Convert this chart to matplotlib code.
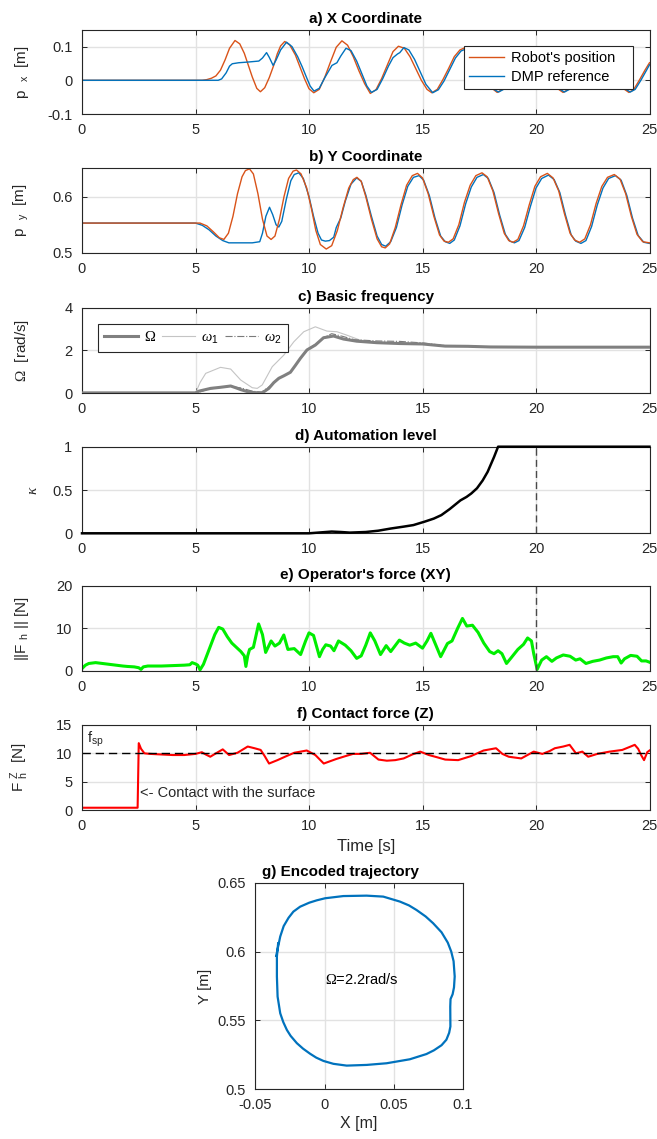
import matplotlib
matplotlib.use('Agg')
import matplotlib.pyplot as plt
import numpy as np

plt.rcParams['font.family'] = ['Liberation Sans', 'DejaVu Sans']
plt.rcParams['mathtext.fontset'] = 'custom'
plt.rcParams['mathtext.rm'] = 'Liberation Sans'
plt.rcParams['mathtext.sf'] = 'Liberation Serif'
plt.rcParams['mathtext.it'] = 'Liberation Serif:italic'
plt.rcParams['mathtext.default'] = 'regular'

# ---------------- data (time [s], value) ----------------
x_robot = np.array([(0, 0), (5.3, 0), (5.5, 0.002), (5.7, 0.006), (5.9, 0.013), (6.1, 0.03), (6.3, 0.06),
    (6.5, 0.095), (6.74, 0.118), (6.95, 0.108), (7.15, 0.08), (7.35, 0.04), (7.5, 0.01), (7.7, -0.024),
    (7.86, -0.034), (8.05, -0.022), (8.25, 0.008), (8.45, 0.045), (8.6, 0.078), (8.75, 0.102), (8.93, 0.115),
    (9.15, 0.105), (9.4, 0.075), (9.6, 0.04), (9.8, 0.005), (10.0, -0.025), (10.21, -0.037), (10.45, -0.027),
    (10.7, 0.01), (10.95, 0.055), (11.2, 0.098), (11.45, 0.117), (11.7, 0.104), (11.95, 0.07), (12.2, 0.028),
    (12.45, -0.01), (12.70, -0.039), (12.95, -0.028), (13.2, 0.005), (13.45, 0.045), (13.7, 0.085),
    (13.94, 0.101), (14.2, 0.095), (14.45, 0.07), (14.7, 0.035), (14.95, 0.0), (15.2, -0.027), (15.41, -0.037),
    (15.65, -0.027), (15.9, 0.002), (16.15, 0.035), (16.4, 0.07), (16.65, 0.09), (16.85, 0.096), (17.1, 0.088),
    (17.35, 0.065), (17.6, 0.032), (17.85, 0.0), (18.1, -0.026), (18.29, -0.036), (18.5, -0.028), (18.75, 0.0),
    (19.0, 0.035), (19.25, 0.068), (19.5, 0.09), (19.75, 0.097), (20.0, 0.09), (20.25, 0.067), (20.5, 0.033),
    (20.75, 0.0), (21.0, -0.027), (21.19, -0.036), (21.4, -0.028), (21.65, 0.0), (21.9, 0.035), (22.15, 0.068),
    (22.4, 0.09), (22.65, 0.097), (22.9, 0.09), (23.15, 0.067), (23.4, 0.033), (23.65, 0.0), (23.9, -0.027),
    (24.09, -0.036), (24.3, -0.028), (24.55, 0.0), (24.8, 0.03), (25.0, 0.052)])

x_dmp = np.array([(0, 0), (6.0, 0), (6.15, 0.004), (6.35, 0.022), (6.5, 0.042), (6.62, 0.049), (6.9, 0.052),
    (7.3, 0.054), (7.79, 0.057), (7.95, 0.066), (8.13, 0.082), (8.25, 0.068), (8.42, 0.044), (8.55, 0.06),
    (8.75, 0.09), (9.01, 0.113), (9.25, 0.1), (9.5, 0.07), (9.7, 0.04), (9.9, 0.007), (10.05, -0.017),
    (10.22, -0.032), (10.45, -0.024), (10.7, 0.008), (11.01, 0.044), (11.23, 0.052), (11.4, 0.072),
    (11.63, 0.095), (11.85, 0.088), (12.1, 0.057), (12.35, 0.016), (12.55, -0.017), (12.75, -0.036),
    (13.0, -0.027), (13.25, 0.005), (13.5, 0.042), (13.7, 0.067), (13.9, 0.078), (14.0, 0.082), (14.18, 0.097),
    (14.4, 0.09), (14.65, 0.062), (14.9, 0.025), (15.15, -0.012), (15.45, -0.037), (15.7, -0.028),
    (15.95, -0.002), (16.2, 0.032), (16.45, 0.066), (16.7, 0.087), (16.92, 0.093), (17.15, 0.086),
    (17.4, 0.062), (17.65, 0.03), (17.9, -0.003), (18.15, -0.027), (18.35, -0.035), (18.57, -0.027),
    (18.82, 0.0), (19.07, 0.034), (19.32, 0.066), (19.57, 0.088), (19.82, 0.095), (20.07, 0.088),
    (20.32, 0.065), (20.57, 0.031), (20.82, -0.002), (21.07, -0.027), (21.25, -0.035), (21.47, -0.027),
    (21.72, 0.0), (21.97, 0.034), (22.22, 0.066), (22.47, 0.088), (22.72, 0.095), (22.97, 0.088),
    (23.22, 0.065), (23.47, 0.031), (23.72, -0.002), (23.97, -0.027), (24.15, -0.035), (24.37, -0.027),
    (24.62, 0.0), (24.87, 0.03), (25.0, 0.046)])

y_robot = np.array([(0, 0.553), (5.2, 0.553), (5.5, 0.548), (5.8, 0.537), (6.05, 0.527), (6.25, 0.524),
    (6.45, 0.535), (6.65, 0.565), (6.85, 0.605), (7.05, 0.635), (7.2, 0.646), (7.38, 0.649), (7.55, 0.64),
    (7.75, 0.605), (7.95, 0.56), (8.15, 0.53), (8.33, 0.524), (8.5, 0.53), (8.7, 0.56), (8.9, 0.6),
    (9.1, 0.632), (9.3, 0.645), (9.45, 0.647), (9.65, 0.64), (9.9, 0.615), (10.1, 0.58), (10.3, 0.54),
    (10.5, 0.515), (10.76, 0.507), (11.0, 0.513), (11.25, 0.54), (11.5, 0.58), (11.75, 0.615), (11.95, 0.63),
    (12.11, 0.634), (12.3, 0.627), (12.5, 0.6), (12.75, 0.56), (13.0, 0.525), (13.2, 0.511), (13.36, 0.509),
    (13.55, 0.516), (13.8, 0.545), (14.05, 0.585), (14.3, 0.62), (14.55, 0.637), (14.78, 0.641), (15.0, 0.633),
    (15.25, 0.605), (15.5, 0.565), (15.75, 0.532), (15.95, 0.521), (16.14, 0.519), (16.35, 0.525), (16.6, 0.55),
    (16.85, 0.59), (17.1, 0.62), (17.35, 0.637), (17.62, 0.642), (17.85, 0.635), (18.1, 0.61), (18.35, 0.57),
    (18.6, 0.535), (18.8, 0.522), (18.99, 0.519), (19.2, 0.524), (19.45, 0.548), (19.7, 0.585), (19.95, 0.618),
    (20.2, 0.635), (20.5, 0.641), (20.75, 0.633), (21.0, 0.61), (21.25, 0.57), (21.5, 0.535), (21.7, 0.523),
    (21.92, 0.519), (22.15, 0.525), (22.4, 0.55), (22.65, 0.588), (22.9, 0.618), (23.15, 0.634), (23.45, 0.639),
    (23.7, 0.631), (23.95, 0.605), (24.2, 0.565), (24.45, 0.533), (24.7, 0.52), (25.0, 0.518)])

y_dmp = np.array([(0, 0.553), (5.0, 0.553), (5.3, 0.549), (5.6, 0.541), (5.9, 0.53), (6.2, 0.522),
    (6.47, 0.518), (7.0, 0.518), (7.5, 0.518), (7.83, 0.52), (7.95, 0.535), (8.1, 0.565), (8.26, 0.581),
    (8.4, 0.568), (8.55, 0.55), (8.67, 0.546), (8.8, 0.556), (9.0, 0.595), (9.2, 0.628), (9.35, 0.639),
    (9.55, 0.642), (9.75, 0.632), (10.0, 0.6), (10.2, 0.565), (10.4, 0.535), (10.55, 0.523), (10.72, 0.521),
    (10.9, 0.522), (11.09, 0.528), (11.2, 0.545), (11.28, 0.552), (11.4, 0.562), (11.6, 0.592), (11.85, 0.622),
    (12.1, 0.633), (12.3, 0.627), (12.5, 0.603), (12.75, 0.565), (13.0, 0.53), (13.2, 0.515), (13.38, 0.512),
    (13.6, 0.52), (13.85, 0.545), (14.1, 0.585), (14.35, 0.618), (14.6, 0.634), (14.85, 0.637), (15.05, 0.629),
    (15.3, 0.602), (15.55, 0.562), (15.8, 0.53), (16.0, 0.52), (16.2, 0.517), (16.4, 0.523), (16.65, 0.548),
    (16.9, 0.587), (17.15, 0.617), (17.4, 0.634), (17.68, 0.639), (17.9, 0.632), (18.15, 0.607), (18.4, 0.567),
    (18.65, 0.533), (18.85, 0.521), (19.05, 0.518), (19.25, 0.522), (19.5, 0.545), (19.75, 0.582), (20.0, 0.615),
    (20.25, 0.632), (20.55, 0.638), (20.8, 0.63), (21.05, 0.607), (21.3, 0.567), (21.55, 0.532), (21.75, 0.521),
    (21.98, 0.517), (22.2, 0.522), (22.45, 0.547), (22.7, 0.585), (22.95, 0.615), (23.2, 0.632), (23.5, 0.637),
    (23.75, 0.629), (24.0, 0.602), (24.25, 0.562), (24.5, 0.531), (24.75, 0.519), (25.0, 0.517)])

omega_basic = np.array([(0, 0.02), (5.0, 0.02), (5.15, 0.1), (5.67, 0.23), (6.1, 0.28), (6.55, 0.34),
    (6.77, 0.26), (7.0, 0.17), (7.28, 0.08), (7.6, 0.03), (7.94, 0.02), (8.23, 0.23), (8.45, 0.5), (8.67, 0.7),
    (8.9, 0.82), (9.18, 0.98), (9.4, 1.3), (9.62, 1.63), (9.91, 2.02), (10.28, 2.25), (10.64, 2.59),
    (11.08, 2.67), (11.52, 2.53), (12.1, 2.43), (12.98, 2.36), (14.0, 2.32), (15.0, 2.3), (15.5, 2.25),
    (16.0, 2.2), (17.0, 2.19), (18.0, 2.16), (20.0, 2.15), (25.0, 2.15)])

omega_1 = np.array([(0, 0), (5.0, 0), (5.2, 0.5), (5.45, 0.93), (6.1, 1.21), (6.55, 1.13), (6.99, 0.62),
    (7.5, 0.26), (7.72, 0.23), (7.94, 0.39), (8.38, 1.24), (8.89, 1.78), (9.33, 2.4), (9.77, 2.87),
    (10.28, 3.1), (10.79, 2.9), (11.23, 2.87), (11.67, 2.71), (12.25, 2.48), (13.0, 2.37), (14.0, 2.33),
    (15.0, 2.3), (16.0, 2.22), (18.0, 2.17), (25.0, 2.15)])

omega_2 = np.array([(0, 0), (5.0, 0), (5.6, 0.2), (6.5, 0.33), (7.0, 0.25), (7.5, 0.1), (7.9, 0.05),
    (8.3, 0.35), (8.7, 0.7), (9.2, 1.0), (9.6, 1.6), (9.95, 2.05), (10.3, 2.3), (10.7, 2.62), (11.0, 2.78),
    (11.5, 2.65), (12.0, 2.5), (13.0, 2.44), (14.0, 2.42), (15.0, 2.35), (16.0, 2.22), (18.0, 2.17),
    (25.0, 2.15)])

kappa = np.array([(0, 0), (10.0, 0), (10.5, 0.01), (11.0, 0.02), (11.4, 0.015), (11.8, 0.008), (12.5, 0.015),
    (13.05, 0.03), (13.6, 0.055), (14.17, 0.077), (14.6, 0.095), (15.1, 0.135), (15.5, 0.17), (15.83, 0.21),
    (16.2, 0.28), (16.67, 0.38), (16.94, 0.42), (17.15, 0.46), (17.4, 0.52), (17.65, 0.61), (17.87, 0.71),
    (18.15, 0.88), (18.33, 1.0), (25.0, 1.0)])

force_xy = np.array([(0, 0.5), (0.15, 1.3), (0.3, 1.7), (0.6, 1.9), (0.9, 1.7), (1.2, 1.5), (1.5, 1.3),
    (1.8, 1.1), (2.0, 1.0), (2.3, 0.9), (2.5, 0.7), (2.6, 0.3), (2.7, 0.9), (2.9, 1.1), (3.5, 1.1), (4.0, 1.2),
    (4.5, 1.3), (4.75, 1.4), (4.85, 1.9), (5.0, 1.6), (5.1, 1.3), (5.2, 0.2), (5.35, 1.5), (5.6, 5.0),
    (5.85, 8.5), (6.02, 10.2), (6.2, 9.8), (6.4, 8.0), (6.6, 6.5), (6.8, 5.5), (7.0, 4.5), (7.15, 3.5),
    (7.22, 1.0), (7.3, 3.5), (7.38, 5.0), (7.55, 5.5), (7.78, 11.0), (7.95, 8.5), (8.09, 4.3), (8.33, 7.0),
    (8.5, 5.8), (8.7, 6.5), (8.89, 8.4), (9.07, 5.0), (9.35, 5.2), (9.63, 3.8), (9.85, 7.0), (10.0, 8.9),
    (10.2, 8.3), (10.46, 3.3), (10.6, 5.0), (10.74, 6.1), (10.95, 5.8), (11.1, 4.7), (11.3, 7.0), (11.6, 6.0),
    (11.85, 4.7), (12.1, 2.9), (12.3, 3.5), (12.5, 6.0), (12.7, 8.9), (12.9, 7.0), (13.15, 3.8), (13.4, 5.9),
    (13.6, 4.5), (13.98, 7.2), (14.2, 6.5), (14.44, 6.0), (14.7, 6.5), (15.0, 5.3), (15.2, 7.0), (15.37, 8.8),
    (15.55, 6.5), (15.8, 3.3), (16.1, 6.4), (16.3, 7.0), (16.55, 10.0), (16.76, 12.3), (16.95, 10.5),
    (17.2, 10.7), (17.45, 9.0), (17.7, 6.5), (17.96, 4.5), (18.15, 4.0), (18.33, 4.7), (18.5, 4.0),
    (18.7, 1.7), (18.9, 3.0), (19.2, 5.0), (19.45, 6.2), (19.63, 7.7), (19.8, 7.0), (19.9, 4.0), (20.05, 0.3),
    (20.25, 2.5), (20.46, 3.3), (20.7, 2.2), (20.9, 3.0), (21.2, 3.7), (21.5, 3.4), (21.75, 2.5), (21.94, 2.8),
    (22.2, 1.7), (22.5, 2.2), (22.8, 2.5), (23.1, 3.0), (23.4, 3.3), (23.6, 3.3), (23.75, 1.8), (23.9, 2.8),
    (24.17, 3.6), (24.45, 3.4), (24.65, 2.3), (24.85, 2.3), (25.0, 2.0)])

force_z = np.array([(0, 0.4), (2.45, 0.4), (2.5, 11.8), (2.6, 10.8), (2.75, 10.0), (3.0, 9.9), (3.5, 9.8),
    (4.0, 9.7), (4.5, 9.7), (5.0, 9.9), (5.28, 10.2), (5.45, 9.8), (5.65, 9.4), (5.9, 10.0), (6.2, 10.7),
    (6.48, 9.7), (6.85, 10.1), (7.3, 11.2), (7.6, 10.9), (7.87, 10.6), (8.05, 9.5), (8.24, 8.2), (8.61, 8.8),
    (9.0, 9.5), (9.35, 10.1), (9.9, 10.5), (10.28, 9.7), (10.65, 8.2), (11.2, 9.0), (11.6, 9.5), (11.94, 9.9),
    (12.3, 9.9), (12.69, 10.1), (13.06, 8.9), (13.43, 8.7), (13.8, 8.8), (14.17, 9.1), (14.55, 9.8),
    (14.9, 10.3), (15.28, 9.7), (15.65, 9.3), (16.0, 8.9), (16.57, 8.8), (17.13, 9.5), (17.69, 10.5),
    (18.24, 10.9), (18.52, 9.9), (18.8, 9.4), (19.35, 9.1), (19.9, 10.3), (20.28, 9.9), (20.6, 10.4),
    (20.83, 10.9), (21.2, 11.2), (21.48, 11.5), (21.76, 10.0), (22.04, 10.3), (22.3, 9.4), (22.7, 9.9),
    (23.24, 10.3), (23.8, 10.6), (24.17, 11.2), (24.35, 11.5), (24.5, 10.8), (24.63, 9.7), (24.76, 8.8),
    (24.9, 10.2), (25.0, 10.5)])

force_setpoint = 10.0
switch_time = 20.0

# encoded trajectory (X [m], Y [m])
traj_xy = np.array([(-0.0349, 0.5969), (-0.032, 0.6109), (-0.0295, 0.6185), (-0.026, 0.6245),
    (-0.0225, 0.6290), (-0.0176, 0.6326), (-0.0110, 0.6355), (-0.0056, 0.6372), (0.0004, 0.6387),
    (0.0136, 0.6403), (0.0304, 0.6406), (0.0424, 0.6399), (0.0544, 0.6363), (0.0610, 0.6335),
    (0.0664, 0.6302), (0.0730, 0.6255), (0.0784, 0.6206), (0.0845, 0.6140), (0.0890, 0.6065),
    (0.0915, 0.6000), (0.0932, 0.5930), (0.094, 0.5819), (0.0935, 0.5740), (0.0925, 0.5690), (0.0910, 0.5655),
    (0.0908, 0.560), (0.0909, 0.5456), (0.0900, 0.5410), (0.0880, 0.5360), (0.0845, 0.5320), (0.0790, 0.5283),
    (0.0736, 0.5256), (0.0616, 0.5218), (0.0448, 0.5189), (0.0304, 0.5177), (0.016, 0.5172), (0.0064, 0.5185),
    (-0.0008, 0.5206), (-0.0060, 0.5230), (-0.0104, 0.5258), (-0.0155, 0.5295), (-0.020, 0.5335),
    (-0.0245, 0.5388), (-0.0272, 0.5431), (-0.0298, 0.5488), (-0.032, 0.5552), (-0.0339, 0.5673),
    (-0.0344, 0.5819), (-0.0344, 0.5964), (-0.0335, 0.606)])

time_ticks = [0, 5, 10, 15, 20, 25]
time_ticklabels = ['0', '5', '10', '15', '20', '25']

# ---------------- styling ----------------
C_ORANGE = '#D95319'
C_BLUE = '#0072BD'
C_AX = '#262626'
C_GRID = '#e2e2e2'

W, H = 657, 1139
fig = plt.figure(figsize=(W / 100, H / 100), dpi=100)


def px_axes(left, top, right, bottom):
    return fig.add_axes([left / W, 1 - bottom / H, (right - left) / W, (bottom - top) / H])


def style(ax, yticks, yticklabels, ylim, xticks=time_ticks, xticklabels=time_ticklabels, xlim=(0, 25)):
    ax.set_xlim(*xlim)
    ax.set_ylim(*ylim)
    ax.set_xticks(xticks)
    ax.set_xticklabels(xticklabels)
    ax.set_yticks(yticks)
    ax.set_yticklabels(yticklabels)
    ax.tick_params(direction='in', length=3.5, width=0.7, top=True, right=True,
                   labelsize=10.5, colors=C_AX)
    ax.tick_params(axis='x', pad=6.5)
    ax.tick_params(axis='y', pad=7)
    ax.grid(True, color=C_GRID, lw=1.0)
    ax.set_axisbelow(True)
    for s in ax.spines.values():
        s.set_color(C_AX)
        s.set_linewidth(0.8)


L, R = 82, 649.5
AXW = R - L
YLAB_X = (31 - L) / AXW
title_kw = dict(fontsize=11, fontweight='bold', color='black', pad=5)
ylab_kw = dict(fontsize=11, color=C_AX)

# a) X coordinate
ax = px_axes(L, 29.7, R, 114)
ax.plot(x_robot[:, 0], x_robot[:, 1], color=C_ORANGE, lw=1.0, label="Robot's position")
ax.plot(x_dmp[:, 0], x_dmp[:, 1], color=C_BLUE, lw=1.0, label='DMP reference')
style(ax, [-0.1, 0, 0.1], ['-0.1', '0', '0.1'], (-0.1, 0.15))
ax.set_title('a) X Coordinate', **title_kw)
ax.set_ylabel('p  $_{x}$  [m]', **ylab_kw)
ax.yaxis.set_label_coords(YLAB_X, 0.5)
leg = ax.legend(loc='upper left', bbox_to_anchor=(0.6737, 0.30, 0.2978, 0.51), mode='expand',
                fontsize=10.5, frameon=True, fancybox=False, edgecolor=C_AX, framealpha=1,
                borderaxespad=0, handlelength=2.4, handletextpad=0.45, labelspacing=0.35, borderpad=0.35)
leg.get_frame().set_linewidth(0.8)

# b) Y coordinate
ax = px_axes(L, 168.3, R, 253)
ax.plot(y_dmp[:, 0], y_dmp[:, 1], color=C_BLUE, lw=1.0)
ax.plot(y_robot[:, 0], y_robot[:, 1], color=C_ORANGE, lw=1.0)
style(ax, [0.5, 0.6], ['0.5', '0.6'], (0.5, 0.65))
ax.set_title('b) Y Coordinate', **title_kw)
ax.set_ylabel('p  $_{y}$  [m]', **ylab_kw)
ax.yaxis.set_label_coords(YLAB_X, 0.5)

# c) Basic frequency
ax = px_axes(L, 307.5, R, 393.3)
ax.plot(omega_1[:, 0], omega_1[:, 1], color='#c4c4c4', lw=0.8, label=r'$\mathit{\omega}_1$', zorder=2)
ax.plot(omega_2[:, 0], omega_2[:, 1], color='#7a7a7a', lw=0.8, ls='-.', label=r'$\mathit{\omega}_2$',
        zorder=3)
ax.plot(omega_basic[:, 0], omega_basic[:, 1], color='#808080', lw=2.2, label=r'$\mathsf{\Omega}$', zorder=4)
style(ax, [0, 2, 4], ['0', '2', '4'], (0, 4))
ax.set_title('c) Basic frequency', **title_kw)
ax.set_ylabel(r'$\mathsf{\Omega}$  [rad/s]', **ylab_kw)
ax.yaxis.set_label_coords(YLAB_X, 0.5)
h, lab = ax.get_legend_handles_labels()
order = [2, 0, 1]
leg = ax.legend([h[i] for i in order], [lab[i] for i in order], loc='upper left',
                bbox_to_anchor=(0.028, 0.30, 0.335, 0.511), mode='expand', ncol=3, fontsize=10.5,
                frameon=True, fancybox=False, edgecolor=C_AX, framealpha=1, borderaxespad=0,
                handlelength=2.3, handletextpad=0.4, columnspacing=0.5, borderpad=0.45)
leg.get_frame().set_linewidth(0.8)

# d) Automation level
ax = px_axes(L, 446.7, R, 533.3)
ax.plot(kappa[:, 0], kappa[:, 1], color='black', lw=1.8, clip_on=False, zorder=5)
ax.axvline(switch_time, color='#4a4a4a', lw=1.0, ls=(0, (5, 3)))
style(ax, [0, 0.5, 1], ['0', '0.5', '1'], (0, 1))
ax.set_title('d) Automation level', **title_kw)
ax.set_ylabel(r'$\mathit{\kappa}$', **ylab_kw)
ax.yaxis.set_label_coords((40 - L) / AXW, 0.5)

# e) Operator's force
ax = px_axes(L, 585.7, R, 670.7)
ax.plot(force_xy[:, 0], force_xy[:, 1], color='#00ee00', lw=2.2)
ax.axvline(switch_time, color='#4a4a4a', lw=1.0, ls=(0, (5, 3)))
style(ax, [0, 10, 20], ['0', '10', '20'], (0, 20))
ax.set_title("e) Operator's force (XY)", **title_kw)
ax.set_ylabel('||F $_{h}$ || [N]', **ylab_kw)
ax.yaxis.set_label_coords(YLAB_X, 0.5)

# f) Contact force
ax = px_axes(L, 725, R, 810)
ax.plot(force_z[:, 0], force_z[:, 1], color='#ff0000', lw=1.5)
ax.axhline(force_setpoint, color='black', lw=1.0, ls=(0, (6, 3.5)))
style(ax, [0, 5, 10, 15], ['0', '5', '10', '15'], (0, 15))
ax.set_title('f) Contact force (Z)', **title_kw)
ax.set_ylabel('F $_{h}^{Z}$  [N]', **ylab_kw)
ax.yaxis.set_label_coords(YLAB_X, 0.5)
ax.set_xlabel('Time [s]', fontsize=12, color=C_AX, labelpad=4)
ax.text(0.2, 11.9, 'f$_{sp}$', fontsize=10.5, color=C_AX, ha='left', va='baseline')
ax.text(2.55, 2.95, '<- Contact with the surface', fontsize=10.5, color=C_AX, ha='left', va='center')

# g) Encoded trajectory
ax = px_axes(255.3, 882.7, 463, 1089.3)
ax.plot(traj_xy[:, 0], traj_xy[:, 1], color=C_BLUE, lw=1.6)
style(ax, [0.5, 0.55, 0.6, 0.65], ['0.5', '0.55', '0.6', '0.65'], (0.5, 0.65),
      xticks=[-0.05, 0, 0.05, 0.1], xticklabels=['-0.05', '0', '0.05', '0.1'], xlim=(-0.05, 0.1))
ax.set_title('g) Encoded trajectory', x=0.41, **title_kw)
ax.set_xlabel('X [m]', fontsize=11.5, color=C_AX, labelpad=3)
ax.set_ylabel('Y [m]', fontsize=11, color=C_AX, labelpad=4)
ax.text(0.0004, 0.5795, r'$\mathsf{\Omega}$=2.2rad/s', fontsize=10.5, color='black', ha='left', va='center')

fig.savefig('out.png', dpi=100)
